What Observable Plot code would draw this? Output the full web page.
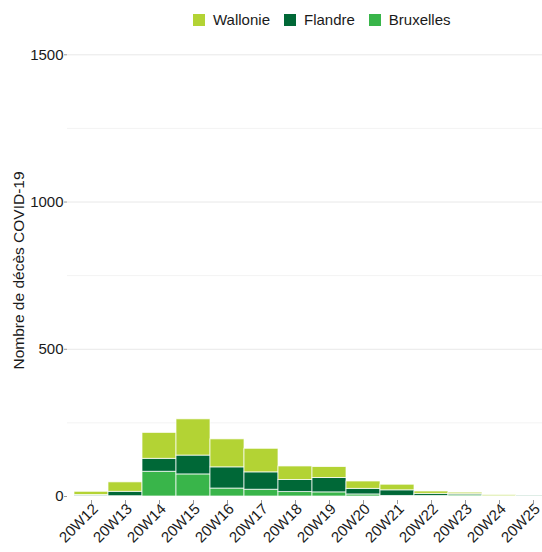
<!DOCTYPE html>
<html>
<head>
<meta charset="utf-8">
<script src="https://cdn.jsdelivr.net/npm/d3@7"></script>
<script src="https://cdn.jsdelivr.net/npm/@observablehq/plot@0.6"></script>
<style>
  html, body { margin: 0; padding: 0; background: white; overflow: hidden; }
  #wrap { position: relative; width: 542px; height: 552px; overflow: hidden; }
  #legend { position: absolute; top: 11px; left: 193px; display: flex; align-items: center;
            font-family: "Liberation Sans", Arial, sans-serif; font-size: 15px; color: #1a1a1a; }
  #legend .item { display: flex; align-items: center; margin-right: 14px; }
  #legend .sw { width: 12px; height: 12px; margin-right: 8px; }
</style>
</head>
<body>
<div id="wrap"></div>
<script>
const weeks = ["20W12","20W13","20W14","20W15","20W16","20W17","20W18","20W19","20W20","20W21","20W22","20W23","20W24","20W25"];
const bruxelles = [2, 1, 84, 75, 27, 23, 15, 14, 7, 2, 2, 4, 1, 1];
const flandre   = [3, 15, 44, 64, 72, 59, 41, 49, 19, 19, 7, 4, 0, 2];
const wallonie  = [11, 32, 88, 123, 95, 80, 46, 37, 25, 19, 8, 5, 4, 0];
const regions = ["Wallonie", "Flandre", "Bruxelles"];
const regionColors = ["#b3d334", "#006837", "#39b54a"];
const yTicks = [0, 500, 1000, 1500];
const yMinor = [250, 750, 1250];
const yLabel = "Nombre de décès COVID-19";

const series = {Bruxelles: bruxelles, Flandre: flandre, Wallonie: wallonie};
const rows = weeks.flatMap((w, i) =>
  ["Bruxelles", "Flandre", "Wallonie"].map(r => ({week: w, region: r, deaths: series[r][i]})));

const plot = Plot.plot({
  width: 542,
  height: 552,
  marginTop: 40,
  marginBottom: 52,
  marginLeft: 67,
  marginRight: 0,
  style: {fontFamily: "'Liberation Sans', Arial, sans-serif", background: "white", overflow: "hidden"},
  x: {type: "band", domain: weeks, range: [70.5, 552.6], padding: 0},
  y: {domain: [0, 1500], range: [496, 54.3]},
  color: {domain: regions, range: regionColors},
  marks: [
    Plot.ruleY(yMinor, {stroke: "#f3f3f3", strokeWidth: 1}),
    Plot.ruleY(yTicks.slice(1), {stroke: "#e8e8e8", strokeWidth: 1}),
    Plot.barY(rows, {x: "week", y: "deaths", fill: "region",
      order: ["Bruxelles", "Flandre", "Wallonie"],
      stroke: "white", strokeWidth: 0.9, strokeOpacity: 0.8}),
    Plot.axisY({ticks: yTicks, tickFormat: d => String(d), tickSize: 3, tickPadding: 1,
      fontSize: 15, label: null, stroke: "#999", fill: "#1a1a1a"}),
    Plot.axisX({tickRotate: -45, tickSize: 4, tickPadding: 1, fontSize: 15, label: null,
      stroke: "#999", text: null}),
    Plot.axisX({tickRotate: -45, tickSize: 0, tickPadding: 6, dx: 4, fontSize: 15, label: null,
      fill: "#1a1a1a"}),
    Plot.text([yLabel], {frameAnchor: "left", dx: -48, rotate: -90, fontSize: 15.5,
      fill: "#1a1a1a", textAnchor: "middle"})
  ]
});

const wrap = document.getElementById("wrap");
wrap.appendChild(plot);

const color = plot.scale("color");
const legend = document.createElement("div");
legend.id = "legend";
regions.forEach(r => {
  const item = document.createElement("div");
  item.className = "item";
  const sw = document.createElement("div");
  sw.className = "sw";
  sw.style.background = color.apply(r);
  const t = document.createElement("span");
  t.textContent = r;
  item.appendChild(sw);
  item.appendChild(t);
  legend.appendChild(item);
});
wrap.appendChild(legend);
</script>
</body>
</html>
